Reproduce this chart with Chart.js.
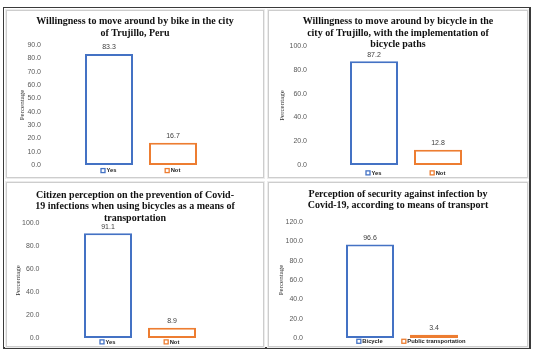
<!DOCTYPE html>
<html><head><meta charset="utf-8">
<script src="https://cdn.jsdelivr.net/npm/chart.js@4.4.0/dist/chart.umd.min.js"></script>
<style>
html,body{margin:0;padding:0;background:#fff;}
body{width:534px;height:353px;position:relative;overflow:hidden;}
#frame{position:absolute;left:3px;top:7px;width:528px;height:342px;box-sizing:border-box;border-style:solid;border-color:#3a3a3a;border-width:1.5px 2px 2px 1.5px;}
.panel{position:absolute;box-sizing:border-box;border:1px solid #cdcdcd;box-shadow:0 0 0 1px #ececec;}
.panel canvas{position:absolute;left:0;top:0;display:block;}
</style></head><body>
<div id="frame"></div>
<div class="panel" style="left:6px;top:10px;width:258px;height:168px"><canvas id="c1" width="256" height="166"></canvas></div>
<div class="panel" style="left:268px;top:10px;width:260px;height:168px"><canvas id="c2" width="258" height="166"></canvas></div>
<div class="panel" style="left:6px;top:182px;width:258px;height:165px"><canvas id="c3" width="256" height="163"></canvas></div>
<div class="panel" style="left:268px;top:182px;width:260px;height:165px"><canvas id="c4" width="258" height="163"></canvas></div>
<script>
// ---- data ----
const chart1Title = ['Willingness to move around by bike in the city', 'of Trujillo, Peru'];
const chart1Categories = ['Yes', 'Not'];
const chart1Values = [83.3, 16.7];

const chart2Title = ['Willingness to move around by bicycle in the', 'city of Trujillo, with the implementation of', 'bicycle paths'];
const chart2Categories = ['Yes', 'Not'];
const chart2Values = [87.2, 12.8];

const chart3Title = ['Citizen perception on the prevention of Covid-', '19 infections when using bicycles as a means of', 'transportation'];
const chart3Categories = ['Yes', 'Not'];
const chart3Values = [91.1, 8.9];

const chart4Title = ['Perception of security against infection by', 'Covid-19, according to means of transport'];
const chart4Categories = ['Bicycle', 'Public transportation'];
const chart4Values = [96.6, 3.4];

const axisTitle = 'Percentage';
const yAxisMax = [90, 100, 100, 120];
const yAxisStep = [10, 20, 20, 20];

// ---- style ----
const barColors = ['#4472C4', '#ED7D31'];
const TITLE_LH = 11.5;
const YT_LH = 8.4;

const layoutSpecs = [
  {id:'c1', left:70, right:198, top:34, bottom:154, yPad:36,   yTitleX:15,   xPad:2.4, firstLine:10.7},
  {id:'c2', left:73, right:201, top:35, bottom:154, yPad:35,   yTitleX:13,   xPad:4.7, firstLine:10.7},
  {id:'c3', left:69, right:197, top:40, bottom:155, yPad:36.5, yTitleX:11.3, xPad:0.7, firstLine:12},
  {id:'c4', left:69, right:197, top:39, bottom:155, yPad:35,   yTitleX:12,   xPad:0.1, firstLine:11.3}
];

const valueLabels = {
  id: 'valueLabels',
  afterDatasetsDraw(chart) {
    const ctx = chart.ctx;
    const meta = chart.getDatasetMeta(0);
    const vals = chart.data.datasets[0].data;
    ctx.save();
    ctx.font = "7px 'Liberation Sans'";
    ctx.fillStyle = '#404040';
    ctx.textAlign = 'center';
    ctx.textBaseline = 'middle';
    meta.data.forEach((bar, i) => {
      ctx.fillText(vals[i].toFixed(1), bar.x, bar.y - 6.5);
    });
    ctx.restore();
  }
};

const legendBoxes = {
  id: 'legendBoxes',
  afterDraw(chart) {
    const xs = chart.scales.x;
    const o = xs.options.ticks;
    const size = o.font.size, lh = size * 1.2;
    const ctx = chart.ctx;
    ctx.save();
    ctx.font = (o.font.weight || 'normal') + ' ' + size + "px 'Liberation Sans'";
    const cy = xs.top + o.padding + lh / 2;
    const ds = chart.data.datasets[0];
    chart.data.labels.forEach((lab, i) => {
      const tw = ctx.measureText(lab).width;
      const cx = xs.getPixelForTick(i) + o.labelOffset;
      const bx = cx - tw / 2 - 1.5 - 4;
      ctx.fillStyle = '#fff';
      ctx.fillRect(bx, cy - 2.3, 4, 4);
      ctx.strokeStyle = ds.borderColor[i];
      ctx.lineWidth = 1.3;
      ctx.strokeRect(bx, cy - 2.3, 4, 4);
    });
    ctx.restore();
  }
};

function makeChart(spec, titleLines, cats, vals, yMax, yStep) {
  const canvas = document.getElementById(spec.id);
  const W = canvas.width, H = canvas.height;
  const titlePadTop = spec.firstLine - TITLE_LH / 2;
  const titlePadBottom = spec.top - titlePadTop - titleLines.length * TITLE_LH;
  return new Chart(canvas, {
    type: 'bar',
    data: {
      labels: cats,
      datasets: [{
        data: vals,
        backgroundColor: '#ffffff',
        borderColor: barColors,
        borderWidth: 2,
        borderSkipped: false,
        barPercentage: 0.75,
        categoryPercentage: 1
      }]
    },
    options: {
      responsive: false,
      animation: false,
      devicePixelRatio: 1,
      layout: { padding: 0 },
      plugins: {
        legend: { display: false },
        tooltip: { enabled: false },
        title: {
          display: true,
          text: titleLines,
          color: '#111',
          font: { family: "'Liberation Serif'", size: 10, weight: 'bold', lineHeight: TITLE_LH / 10 },
          padding: { top: titlePadTop, bottom: titlePadBottom }
        }
      },
      scales: {
        x: {
          type: 'category',
          grid: { display: false, drawTicks: false },
          border: { display: false },
          ticks: {
            color: '#222',
            font: { family: "'Liberation Sans'", size: 5.8, weight: 'bold', lineHeight: 1.2 },
            padding: spec.xPad,
            labelOffset: 2.5,
            maxRotation: 0, minRotation: 0, autoSkip: false
          },
          afterFit(s) { s.height = H - spec.bottom; s.paddingLeft = 0; s.paddingRight = 0; }
        },
        y: {
          type: 'linear',
          position: 'left',
          min: 0, max: yMax,
          grid: { display: false, drawTicks: false },
          border: { display: false },
          ticks: {
            stepSize: yStep,
            color: '#595959',
            font: { family: "'Liberation Sans'", size: 7 },
            padding: spec.yPad,
            callback: v => Number(v).toFixed(1)
          },
          title: {
            display: true,
            text: axisTitle,
            color: '#333',
            font: { family: "'Liberation Serif'", size: 7, lineHeight: 1.2 },
            padding: { top: spec.yTitleX - YT_LH / 2, bottom: 0 }
          },
          afterFit(s) { s.width = spec.left; s.paddingTop = 0; s.paddingBottom = 0; }
        },
        pad: {
          type: 'linear',
          position: 'right',
          display: true,
          grid: { display: false, drawTicks: false },
          border: { display: false },
          ticks: { display: false },
          afterFit(s) { s.width = W - spec.right; s.paddingTop = 0; s.paddingBottom = 0; }
        }
      }
    },
    plugins: [valueLabels, legendBoxes]
  });
}

makeChart(layoutSpecs[0], chart1Title, chart1Categories, chart1Values, yAxisMax[0], yAxisStep[0]);
makeChart(layoutSpecs[1], chart2Title, chart2Categories, chart2Values, yAxisMax[1], yAxisStep[1]);
makeChart(layoutSpecs[2], chart3Title, chart3Categories, chart3Values, yAxisMax[2], yAxisStep[2]);
makeChart(layoutSpecs[3], chart4Title, chart4Categories, chart4Values, yAxisMax[3], yAxisStep[3]);
</script>
</body></html>
